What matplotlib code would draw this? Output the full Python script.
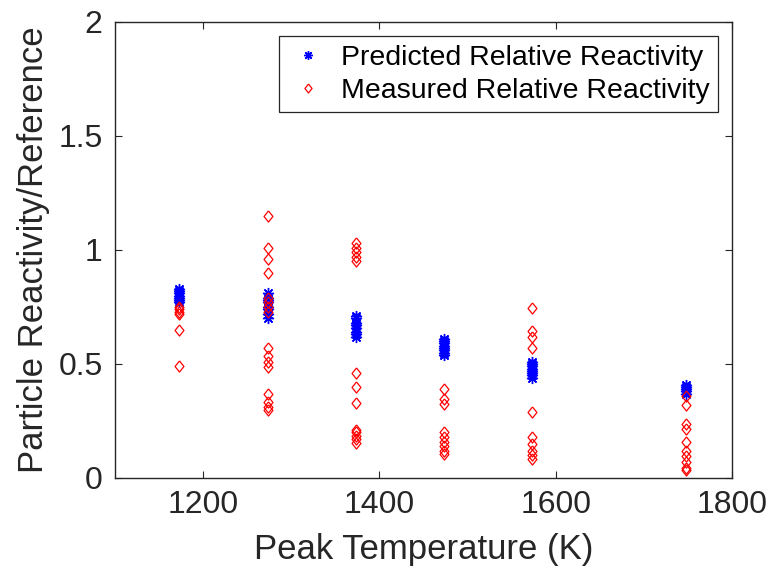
import numpy as np
import matplotlib
matplotlib.use("Agg")
import matplotlib.pyplot as plt

plt.rcParams['font.family'] = ['Liberation Sans', 'DejaVu Sans']

# peak temperatures of each run group (K)
temps = [1173, 1273, 1373, 1473, 1573, 1748]

# predicted relative reactivity per temperature group
predicted = [
    [0.77, 0.78, 0.79, 0.80, 0.81, 0.82, 0.83],
    [0.70, 0.72, 0.74, 0.75, 0.77, 0.78, 0.79, 0.81],
    [0.62, 0.63, 0.64, 0.66, 0.67, 0.68, 0.70, 0.71],
    [0.54, 0.55, 0.56, 0.57, 0.58, 0.59, 0.60, 0.61],
    [0.44, 0.45, 0.46, 0.47, 0.48, 0.49, 0.50, 0.51],
    [0.37, 0.38, 0.39, 0.40, 0.41],
]

# measured relative reactivity per temperature group
measured = [
    [0.75, 0.74, 0.73, 0.72, 0.65, 0.49],
    [1.15, 1.01, 0.96, 0.90, 0.79, 0.77, 0.75, 0.73,
     0.57, 0.535, 0.51, 0.485, 0.37, 0.335, 0.31, 0.30],
    [1.03, 1.01, 0.99, 0.97, 0.95, 0.46, 0.40, 0.33,
     0.21, 0.20, 0.185, 0.17, 0.155],
    [0.39, 0.345, 0.325, 0.20, 0.18, 0.16, 0.14, 0.12, 0.105],
    [0.745, 0.645, 0.62, 0.57, 0.29, 0.18, 0.15, 0.12, 0.10, 0.085],
    [0.36, 0.32, 0.235, 0.215, 0.16, 0.12, 0.095, 0.07, 0.045, 0.035],
]

# flatten into x/y pairs
px = np.concatenate([[t] * len(v) for t, v in zip(temps, predicted)])
py = np.concatenate(predicted)
mx = np.concatenate([[t] * len(v) for t, v in zip(temps, measured)])
my = np.concatenate(measured)

dark = '#262626'
diamond = [(0, 1), (0.8, 0), (0, -1), (-0.8, 0), (0, 1)]  # matlab-ish diamond

fig = plt.figure(figsize=(7.73, 5.77), dpi=100)
ax = fig.add_axes([0.1488, 0.1716, 0.7982, 0.7903])

ax.plot(px, py, marker=(8, 2, 0), color='blue', markersize=8,
        markeredgewidth=1.0, linestyle='none',
        label='Predicted Relative Reactivity')
ax.plot(mx, my, marker=diamond, markerfacecolor='none', markeredgecolor='red',
        markersize=8, markeredgewidth=0.9, linestyle='none',
        label='Measured Relative Reactivity')

ax.set_xlim(1100, 1800)
ax.set_ylim(0, 2)
ax.set_xticks([1200, 1400, 1600, 1800])
ax.set_yticks([0, 0.5, 1, 1.5, 2])
ax.set_yticklabels(['0', '0.5', '1', '1.5', '2'])
ax.tick_params(labelsize=23, direction='in', length=5, color=dark,
               top=True, right=True, labelcolor=dark, pad=9)
for s in ax.spines.values():
    s.set_color(dark)
    s.set_linewidth(1.0)

ax.set_xlabel('Peak Temperature (K)', fontsize=25, color=dark, labelpad=9)
ax.set_ylabel('Particle Reactivity/Reference', fontsize=25, color=dark,
              labelpad=6)

leg = ax.legend(loc='upper right', fontsize=20.5, fancybox=False,
                framealpha=1, edgecolor=dark, borderaxespad=0.5,
                handletextpad=0.45, handlelength=1.4, borderpad=0.3,
                labelspacing=0.25, markerscale=0.8)
leg.get_frame().set_linewidth(0.9)

fig.savefig('out.png', dpi=100)
